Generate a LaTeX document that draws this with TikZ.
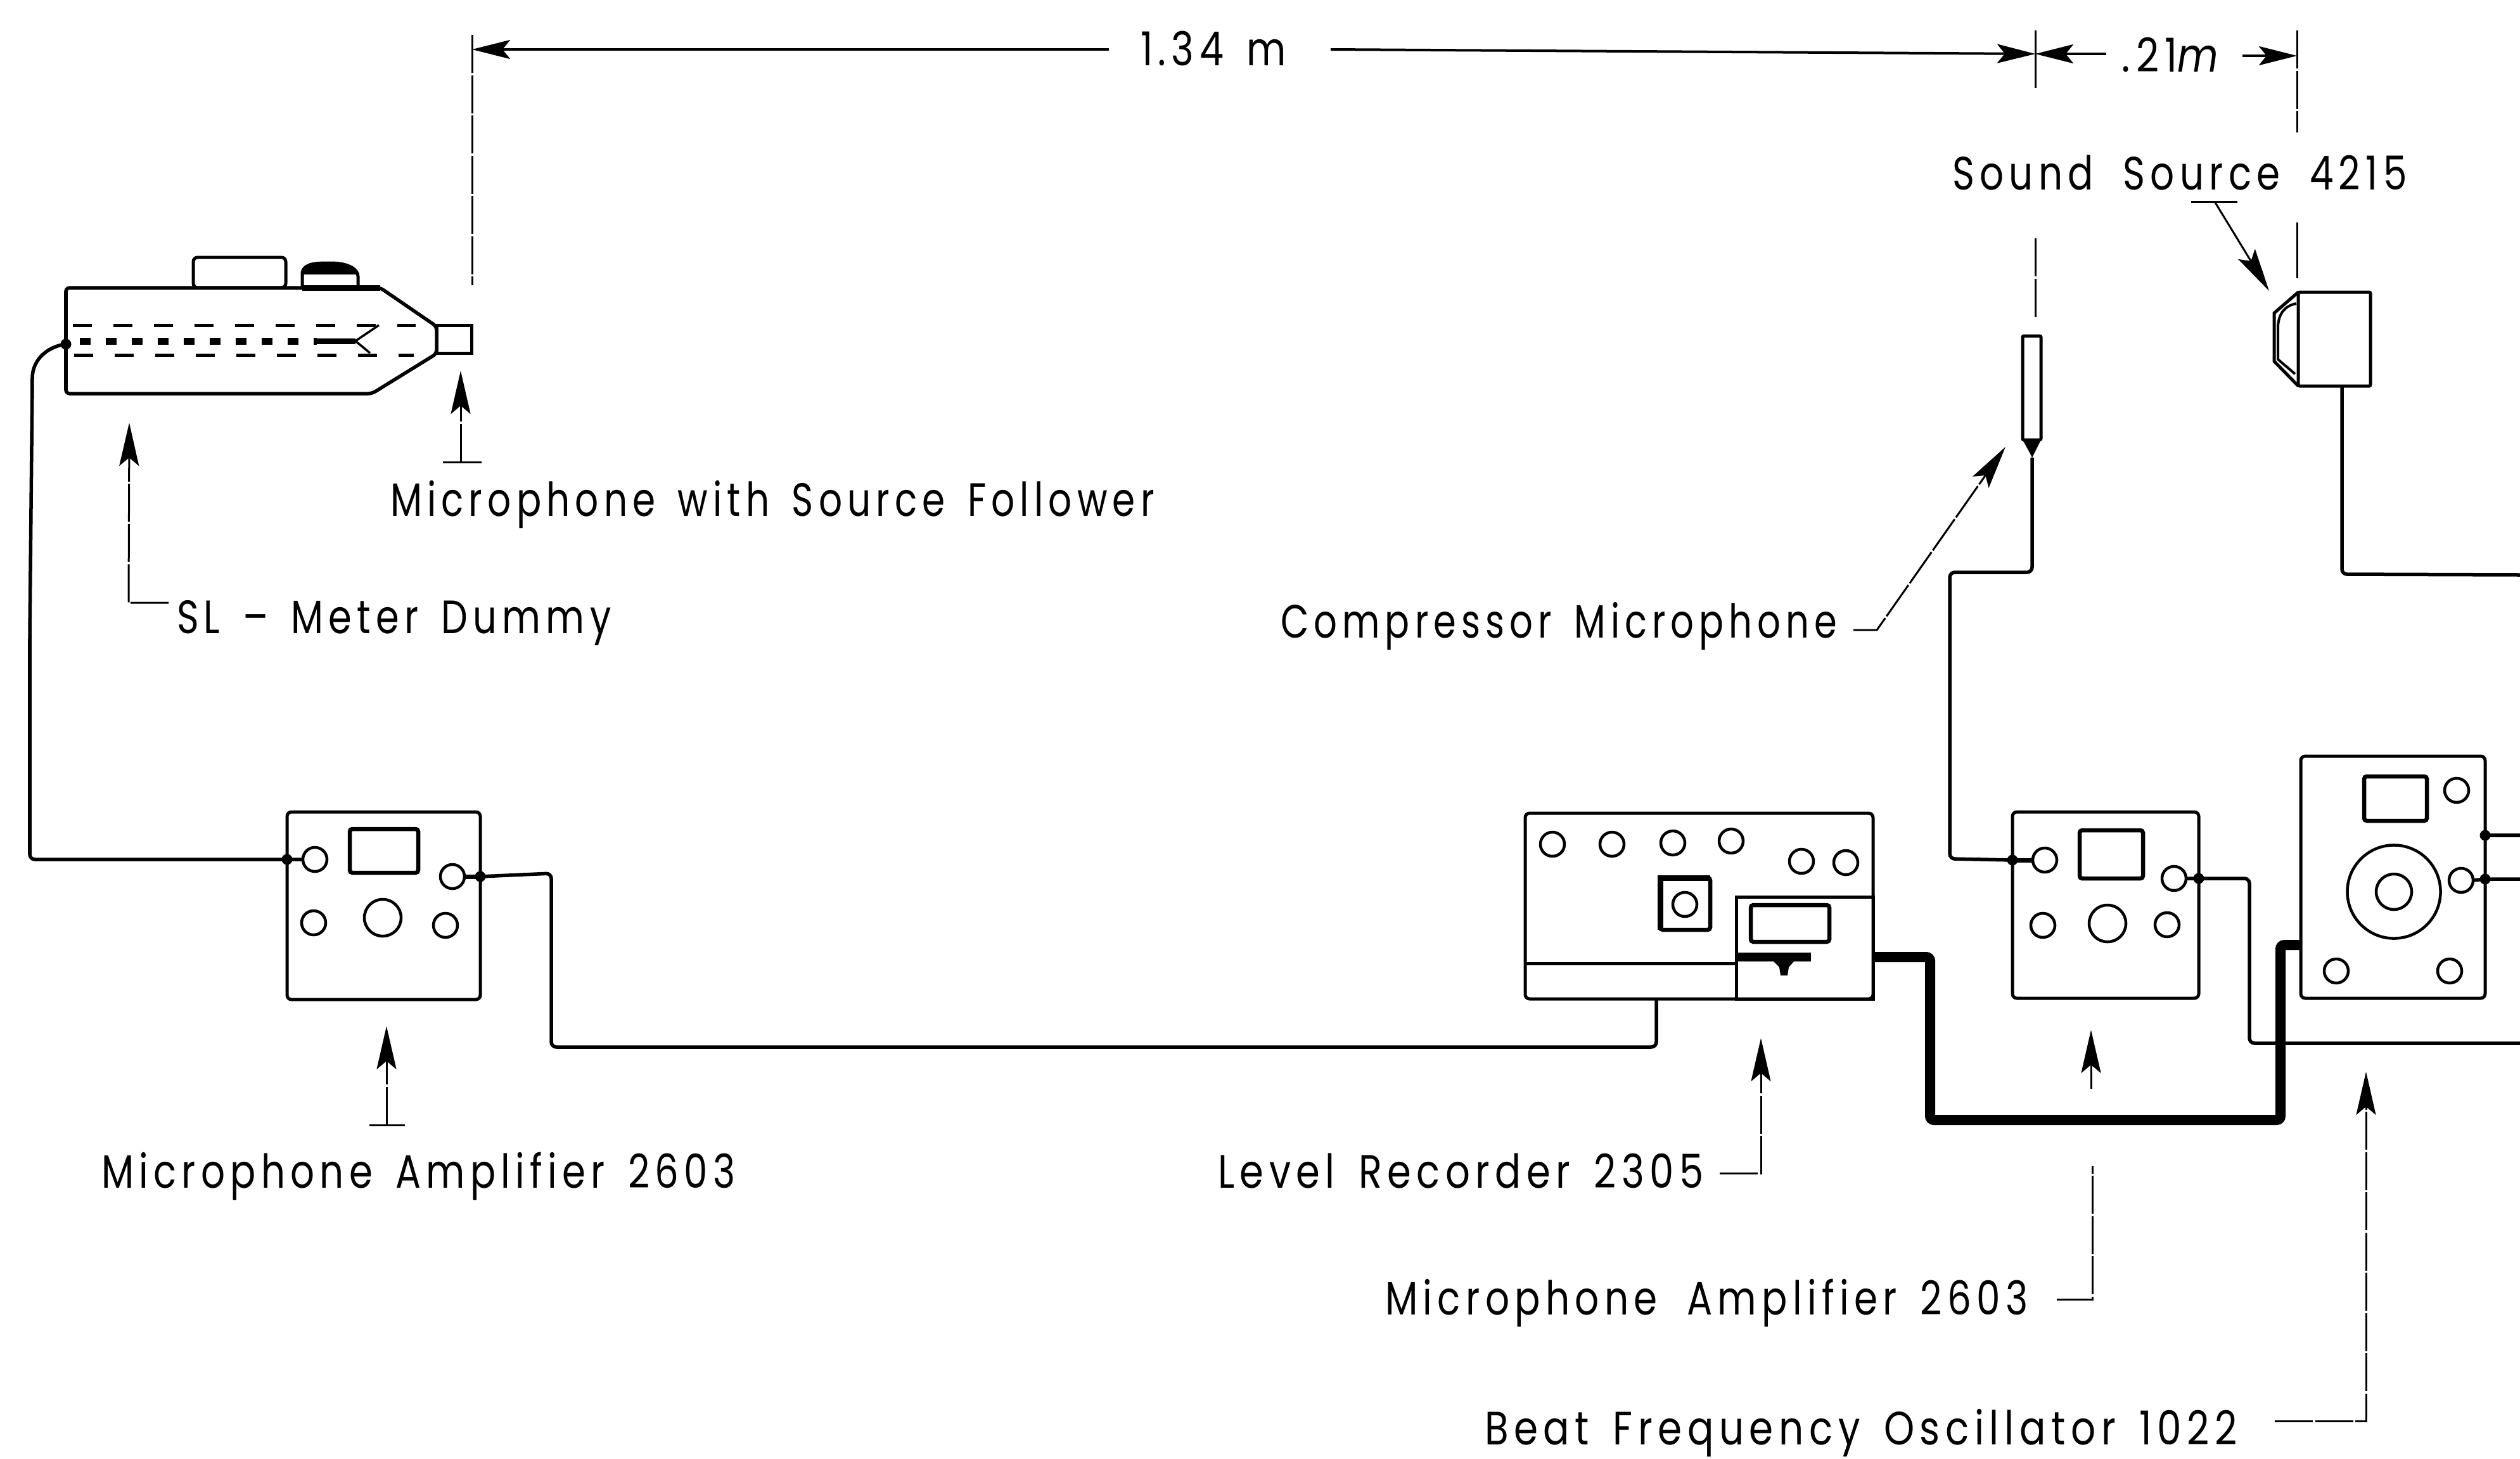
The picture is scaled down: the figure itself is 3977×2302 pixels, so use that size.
\documentclass[tikz,border=0pt]{standalone}
\usepackage{fontspec}
\usepackage{graphicx}
\setmainfont{Poppins}[LetterSpace=14,WordSpace=1.5]
\usetikzlibrary{arrows.meta,fit}
\newcommand\fitw[2]{\resizebox{#1}{\height}{#2}}
\tikzset{
  panel/.style={draw,line width=0.05cm,rounded corners=0.07cm,inner sep=0pt,outer sep=0pt},
  knob/.style={draw,circle,line width=0.045cm,minimum size=0.38cm,inner sep=0pt,outer sep=0pt},
  bigknob/.style={knob,minimum size=0.58cm},
  meter/.style={draw,line width=0.065cm,rounded corners=0.04cm,inner sep=0pt,outer sep=0pt},
  wire/.style={line width=0.055cm,rounded corners=0.08cm},
  heavy/.style={line width=0.16cm,rounded corners=0.06cm},
  leader/.style={line width=0.03cm,dash pattern=on 0.6cm off 0.035cm},
  thinline/.style={line width=0.03cm},
  ptr/.style={-{Stealth[length=0.68cm,width=0.31cm,inset=0.13cm]}},
  dimptr/.style={-{Stealth[length=0.6cm,width=0.3cm,inset=0.12cm]}},
  jointdot/.style={fill,circle,inner sep=0pt,minimum size=0.17cm,outer sep=0pt},
  lbl/.style={anchor=base west,inner sep=0pt,outer sep=0pt,font=\fontsize{21}{25}\selectfont},
  dashA/.style={line width=0.05cm,dash pattern=on 0.3cm off 0.34cm},
  dashB/.style={line width=0.11cm,dash pattern=on 0.17cm off 0.24cm},
}
\begin{document}
\begin{tikzpicture}[x=0.01cm,y=-0.01cm]
\useasboundingbox (0,0) rectangle (3977,2302);

% ---- SL meter dummy
\coordinate (bA) at (104,454);
\coordinate (bB) at (600,454);
\coordinate (bC) at (689,515);
\coordinate (bD) at (689,558);
\coordinate (bE) at (587,621);
\coordinate (bF) at (104,621);
\draw[line width=0.055cm,rounded corners=0.06cm] (bA) -- (bB) -- (bC) -- (bD) -- (bE) -- (bF) -- cycle;
\node[panel,fit={(305,406)(451,454)}] (slcase) {};
\draw[line width=0.05cm] (477,454) -- (477,430) .. controls (480,415) and (500,415) .. (522,415) .. controls (550,415) and (565,425) .. (565,436) -- (565,454);
\fill (477,433) .. controls (480,415) and (500,415) .. (522,415) .. controls (550,415) and (565,425) .. (565,433) -- cycle;
\draw[line width=0.09cm] (477,454) -- (600,454);
\node[panel,rounded corners=0pt,fit={(689,513)(744,557)}] (slmic) {};
\draw[dashA] (115,513) -- (656,513);
\draw[dashA] (117,560) -- (653,560);
\draw[dashB] (126,538) -- (500,538);
\draw[line width=0.09cm] (500,538) -- (561,538);
\draw[line width=0.035cm] (561,538) -- (598,513);
\draw[line width=0.035cm] (561,538) -- (584,557);

% ---- amplifier 1
\node[panel,fit={(453,1281)(758,1577)}] (ampA) {};
\node[meter,fit={(552,1308)(660,1377)}] (ampAm) {};
\node[knob] (ampAi) at (497,1356) {};
\node[knob] (ampAo) at (714,1383) {};
\node[knob] (ampAl) at (495,1456) {};
\node[bigknob] (ampAc) at (604,1448) {};
\node[knob] (ampAr) at (703,1460) {};

% ---- level recorder
\node[panel,fit={(2407,1283)(2956,1576)}] (rec) {};
\draw[line width=0.05cm] (2407,1520) -- (2740,1520);
\node[panel,rounded corners=0pt,fit={(2740,1415)(2956,1576)}] (recd) {};
\node[knob] (ra) at (2450,1332) {};
\node[knob] (rb) at (2544,1332) {};
\node[knob] (rc) at (2640,1330) {};
\node[knob] (rd) at (2732,1327) {};
\node[knob] (re) at (2843,1359) {};
\node[knob] (rf) at (2913,1361) {};
\node[meter,fit={(2620,1385)(2699,1467)}] (rs) {};
\draw[line width=0.09cm] (2620,1467) -- (2620,1385) -- (2699,1385);
\node[knob] (rk) at (2659,1427) {};
\node[meter,fit={(2763,1428)(2887,1486)}] (rw) {};
\draw[line width=0.14cm] (2740,1510) -- (2858,1510);
\fill (2798,1516) -- (2832,1516) -- (2823,1526) -- (2821,1539) -- (2810,1539) -- (2808,1526) -- cycle;

% ---- amplifier 2
\node[panel,fit={(3176,1281)(3470,1575)}] (ampB) {};
\node[meter,fit={(3282,1310)(3382,1386)}] (ampBm) {};
\node[knob] (ampBi) at (3227,1357) {};
\node[knob] (ampBo) at (3431,1386) {};
\node[knob] (ampBl) at (3224,1460) {};
\node[bigknob] (ampBc) at (3326,1457) {};
\node[knob] (ampBr) at (3420,1459) {};

% ---- oscillator
\node[panel,fit={(3631,1193)(3922,1575)}] (bfo) {};
\node[meter,fit={(3731,1225)(3830,1295)}] (bfom) {};
\node[knob] (bfoa) at (3877,1247) {};
\node[knob,minimum size=1.47cm] (bfob) at (3778,1407) {};
\node[knob,minimum size=0.56cm] (bfoc) at (3778,1407) {};
\node[knob] (bfod) at (3884,1389) {};
\node[knob] (bfoe) at (3687,1532) {};
\node[knob] (bfof) at (3866,1532) {};

% ---- compressor microphone
\node[panel,rounded corners=0.02cm,fit={(3192,530)(3221,694)}] (cmic) {};
\coordinate (cmict) at (3207,722);
\fill (cmic.south west) -- (3202,712) -- (cmict) -- (3212,712) -- (cmic.south east) -- cycle;

% ---- sound source
\node[panel,rounded corners=0.02cm,fit={(3627,461)(3741,609)}] (src) {};
\draw[line width=0.05cm] (src.north west) -- (3589,494) -- (3589,570) -- (src.south west);
\draw[line width=0.04cm] (3624,479) .. controls (3606,482) and (3596,495) .. (3595,515) -- (3595,567) -- (3622,590);

% ---- wires
\coordinate (eA) at (3977,1646);
\coordinate (eB) at (3977,1318);
\coordinate (eC) at (3977,1387);
\coordinate (eD) at (3977,907);
\node[jointdot] (jA) at (104,543) {};
\node[jointdot] (jB) at (453,1356) {};
\node[jointdot] (jC) at (758,1383) {};
\node[jointdot] (jD) at (3176,1357) {};
\node[jointdot] (jE) at (3470,1386) {};
\node[jointdot] (jF) at (3599,1646) {};
\node[jointdot] (jG) at (3922,1318) {};
\node[jointdot] (jH) at (3922,1387) {};
\draw[wire] (jA.center) .. controls (78,546) and (51,565) .. (51,605) -- (47,1000) -- (47,1356) -- (jB.center) -- (ampAi.west);
\draw[line width=0.07cm] (ampAo.east) -- (jC.center);
\draw[wire] (jC.center) -- (870,1378) -- (870,1652) -- (2614,1652) -- (2614,1576);
\draw[wire] (cmict) -- (3207,903) -- (3077,903) -- (3077,1355) -- (jD.center);
\draw[line width=0.07cm] (jD.center) -- (ampBi.west);
\draw[wire] (ampBo.east) -- (3550,1386) -- (3550,1646) -- (jF.center) -- (eA);
\draw[heavy] (2956,1510) -- (3046,1510) -- (3046,1767) -- (3599,1767) -- (3599,1491) -- (3631,1491);
\draw[line width=0.13cm] (3599,1491) -- (3631,1491);
\draw[wire] (jG.center) -- (eB);
\draw[wire] (bfod.east) -- (jH.center) -- (eC);
\draw[wire] (3696,609) -- (3696,906) -- (eD);

% ---- dimension lines
\coordinate (dA) at (745,78);
\coordinate (dB) at (3212,85);
\coordinate (dC) at (3625,88);
\coordinate (dAe) at (1750,78);
\coordinate (dBe) at (2100,78);
\coordinate (dCe) at (3324,85);
\coordinate (dDe) at (3539,88);
\draw[thinline,line width=0.04cm,dimptr] (dAe) -- (dA);
\draw[thinline,line width=0.04cm,dimptr] (dBe) -- (dB);
\draw[thinline,line width=0.04cm,dimptr] (dCe) -- (dB);
\draw[thinline,line width=0.04cm,dimptr] (dDe) -- (dC);
\draw[leader] (745,55) -- (745,450);
\draw[thinline] (3212,48) -- (3212,139);
\draw[leader] (3212,376) -- (3212,500);
\draw[leader] (3625,48) -- (3625,209);
\draw[thinline] (3625,351) -- (3625,439);

% ---- labels
\node[lbl] (tA) at (1800,103) {\fitw{2.3cm}{1.34 m}};
\node[lbl] (tB) at (3348,113) {\fitw{1.62cm}{.\,21\textit{m}}};
\node[lbl] (tC) at (3081,299) {\fitw{7.17cm}{Sound\, Source\, 4215}};
\node[lbl] (tD) at (616,814) {\fitw{12.05cm}{Microphone with Source Follower}};
\node[lbl] (tE) at (279,999) {\fitw{6.85cm}{SL -- Meter Dummy}};
\node[lbl] (tF) at (2021,1006) {\fitw{8.78cm}{Compressor Microphone}};
\node[lbl] (tG) at (160,1874) {\fitw{10.0cm}{Microphone Amplifier 2603}};
\node[lbl] (tH) at (1922,1874) {\fitw{7.66cm}{Level Recorder 2305}};
\node[lbl] (tI) at (2186,2074) {\fitw{10.14cm}{Microphone\, Amplifier 2603}};
\node[lbl] (tJ) at (2343,2279) {\fitw{11.87cm}{Beat Frequency Oscillator 1022}};

% ---- pointers
\coordinate (pA) at (204,667);
\coordinate (pB) at (727,585);
\coordinate (pC) at (610,1619);
\coordinate (pD) at (2779,1638);
\coordinate (pE) at (3300,1625);
\coordinate (pF) at (3734,1691);
\coordinate (pG) at (3165,705);
\coordinate (pH) at (3581,459);
\draw[leader,ptr] (266,951) -- (203,951) -- (pA);
\draw[leader,ptr] (727,729) -- (pB);
\draw[thinline] (699,729) -- (760,729);
\draw[leader,ptr] (610,1775) -- (pC);
\draw[thinline] (583,1775) -- (639,1775);
\draw[leader,ptr] (2714,1851) -- (2779,1851) -- (pD);
\draw[thinline,ptr] (3300,1718) -- (pE);
\draw[leader] (3246,2050) -- (3302,2050) -- (3302,1840);
\draw[leader,ptr] (3590,2242) -- (3734,2242) -- (pF);
\draw[leader,ptr] (2925,994) -- (2962,994) -- (pG);
\draw[thinline,ptr] (3495,318) -- (pH);
\draw[thinline] (3458,318) -- (3531,318);
\end{tikzpicture}
\end{document}
